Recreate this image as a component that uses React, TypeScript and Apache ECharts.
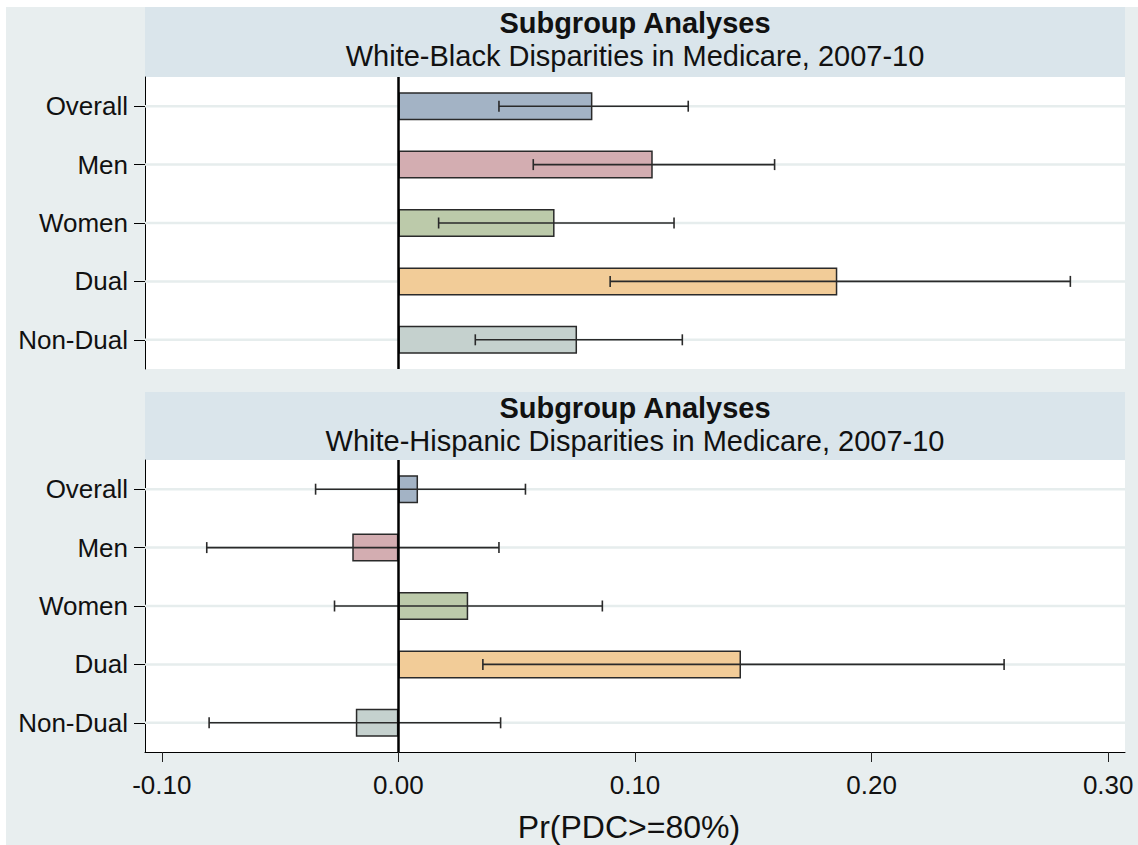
import React, { useEffect, useRef } from "react";
import * as echarts from "echarts";

const categories = ["Overall", "Men", "Women", "Dual", "Non-Dual"];
const barColors = ["#a3b3c5", "#d3adb1", "#bccaaa", "#f2cc98", "#c5d1ce"];

const blackEst = [0.082, 0.1075, 0.066, 0.1855, 0.0755];
const blackLo = [0.0425, 0.057, 0.017, 0.0895, 0.0325];
const blackHi = [0.1225, 0.159, 0.1165, 0.284, 0.12];

const hispEst = [0.0083, -0.0195, 0.0295, 0.1448, -0.018];
const hispLo = [-0.035, -0.081, -0.027, 0.0357, -0.08];
const hispHi = [0.0537, 0.0425, 0.0862, 0.256, 0.0432];

const xTicks = [-0.1, 0, 0.1, 0.2, 0.3];
const xMin = -0.1071;
const xMax = 0.3071;

const panelTitle = "Subgroup Analyses";
const panelSubtitles = [
  "White-Black Disparities in Medicare, 2007-10",
  "White-Hispanic Disparities in Medicare, 2007-10",
];
const xAxisTitle = "Pr(PDC>=80%)";

const FONT = '"Liberation Sans", Arial, sans-serif';
const TEXT = "#111";
const BG = "#e8eeef";
const HEADER = "#dae5eb";

const GRID_LEFT = 145;
const GRID_W = 980;
const GRID_H = 292;
const GRID_TOPS = [77, 460];
const HEADER_TOPS = [7, 392];
const HEADER_H = [70, 68];

export default function App() {
  const ref = useRef<HTMLDivElement>(null);

  useEffect(() => {
    if (!ref.current) return;
    const chart = echarts.init(ref.current, null, { renderer: "svg" });

    const panels = [
      { est: blackEst, lo: blackLo, hi: blackHi },
      { est: hispEst, lo: hispLo, hi: hispHi },
    ];

    const grids = GRID_TOPS.map((top) => ({
      left: GRID_LEFT,
      top,
      width: GRID_W,
      height: GRID_H,
      show: true,
      backgroundColor: "#fff",
      borderWidth: 0,
      containLabel: false,
    }));

    const xAxes = panels.map((_, i) => ({
      type: "value",
      gridIndex: i,
      min: xMin,
      max: xMax,
      show: i === 1,
      axisLine: { show: true, onZero: false, lineStyle: { color: "#000", width: 1 } },
      axisTick: {
        show: true,
        length: 10,
        customValues: xTicks,
        lineStyle: { color: "#222", width: 1 },
      },
      axisLabel: {
        show: true,
        customValues: xTicks,
        formatter: (v: number) => v.toFixed(2),
        fontSize: 26,
        fontFamily: FONT,
        color: TEXT,
        margin: 20,
      },
      splitLine: { show: false },
      name: i === 1 ? xAxisTitle : "",
      nameLocation: "middle",
      nameGap: 59,
      nameTextStyle: { fontSize: 32, fontFamily: FONT, color: TEXT, padding: [0, 12, 0, 0] },
    }));

    const yAxes = panels.map((_, i) => ({
      type: "category",
      gridIndex: i,
      data: categories,
      inverse: true,
      axisLine: { show: true, onZero: false, lineStyle: { color: "#000", width: 1 } },
      axisTick: {
        show: true,
        alignWithLabel: true,
        length: 11,
        lineStyle: { color: "#000", width: 1 },
      },
      axisLabel: {
        fontSize: 26,
        fontFamily: FONT,
        color: TEXT,
        margin: 17,
      },
      splitLine: { show: false },
    }));

    const series: any[] = [];
    panels.forEach((p, i) => {
      series.push({
        type: "custom",
        xAxisIndex: i,
        yAxisIndex: i,
        z: 1,
        silent: true,
        data: categories.map((_, k) => [0, k]),
        encode: { x: 0, y: 1 },
        renderItem: (params: any, api: any) => {
          const cs = params.coordSys;
          const y = api.coord([0, api.value(1)])[1];
          return {
            type: "line",
            shape: { x1: cs.x, y1: y, x2: cs.x + cs.width, y2: y },
            style: { stroke: "#e6eded", lineWidth: 2.5 },
          };
        },
      });
      series.push({
        type: "bar",
        xAxisIndex: i,
        yAxisIndex: i,
        z: 2,
        barWidth: 28,
        data: p.est.map((v, k) => ({
          value: v,
          itemStyle: { color: barColors[k], borderColor: "#2a2a2a", borderWidth: 1.5 },
        })),
        markLine: {
          silent: true,
          symbol: "none",
          label: { show: false },
          lineStyle: { color: "#000", width: 2.5, type: "solid" },
          data: [{ xAxis: 0 }],
        },
      });
      series.push({
        type: "custom",
        xAxisIndex: i,
        yAxisIndex: i,
        z: 3,
        silent: true,
        data: categories.map((_, k) => [k, p.lo[k], p.hi[k]]),
        encode: { y: 0, x: [1, 2] },
        renderItem: (params: any, api: any) => {
          const cat = api.value(0);
          const a = api.coord([api.value(1), cat]);
          const b = api.coord([api.value(2), cat]);
          const h = 5.5;
          const st = { stroke: "#2a2a2a", lineWidth: 1.6 };
          return {
            type: "group",
            children: [
              { type: "line", shape: { x1: a[0], y1: a[1], x2: b[0], y2: b[1] }, style: st },
              { type: "line", shape: { x1: a[0], y1: a[1] - h, x2: a[0], y2: a[1] + h }, style: st },
              { type: "line", shape: { x1: b[0], y1: b[1] - h, x2: b[0], y2: b[1] + h }, style: st },
            ],
          };
        },
      });
    });

    const graphic: any[] = [];
    HEADER_TOPS.forEach((top, i) => {
      graphic.push({
        type: "rect",
        shape: { x: GRID_LEFT, y: top, width: GRID_W, height: HEADER_H[i] },
        style: { fill: HEADER },
        silent: true,
      });
      graphic.push({
        type: "text",
        x: GRID_LEFT + GRID_W / 2,
        y: top + 16,
        style: {
          text: panelTitle,
          font: `bold 29px ${FONT}`,
          fill: TEXT,
          align: "center",
          verticalAlign: "middle",
          textAlign: "center",
          textVerticalAlign: "middle",
        },
      });
      graphic.push({
        type: "text",
        x: GRID_LEFT + GRID_W / 2,
        y: top + 49,
        style: {
          text: panelSubtitles[i],
          font: `29px ${FONT}`,
          fill: TEXT,
          align: "center",
          verticalAlign: "middle",
          textAlign: "center",
          textVerticalAlign: "middle",
        },
      });
    });

    chart.setOption({
      animation: false,
      backgroundColor: "transparent",
      grid: grids,
      xAxis: xAxes,
      yAxis: yAxes,
      series,
      graphic,
    });

    return () => chart.dispose();
  }, []);

  return (
    <div
      style={{
        position: "absolute",
        left: 0,
        top: 0,
        width: 1138,
        height: 845,
        background: `linear-gradient(${BG}, ${BG}) 6px 7px / 1132px 838px no-repeat, #fff`,
      }}
    >
      <div ref={ref} style={{ width: 1138, height: 845 }} />
    </div>
  );
}
